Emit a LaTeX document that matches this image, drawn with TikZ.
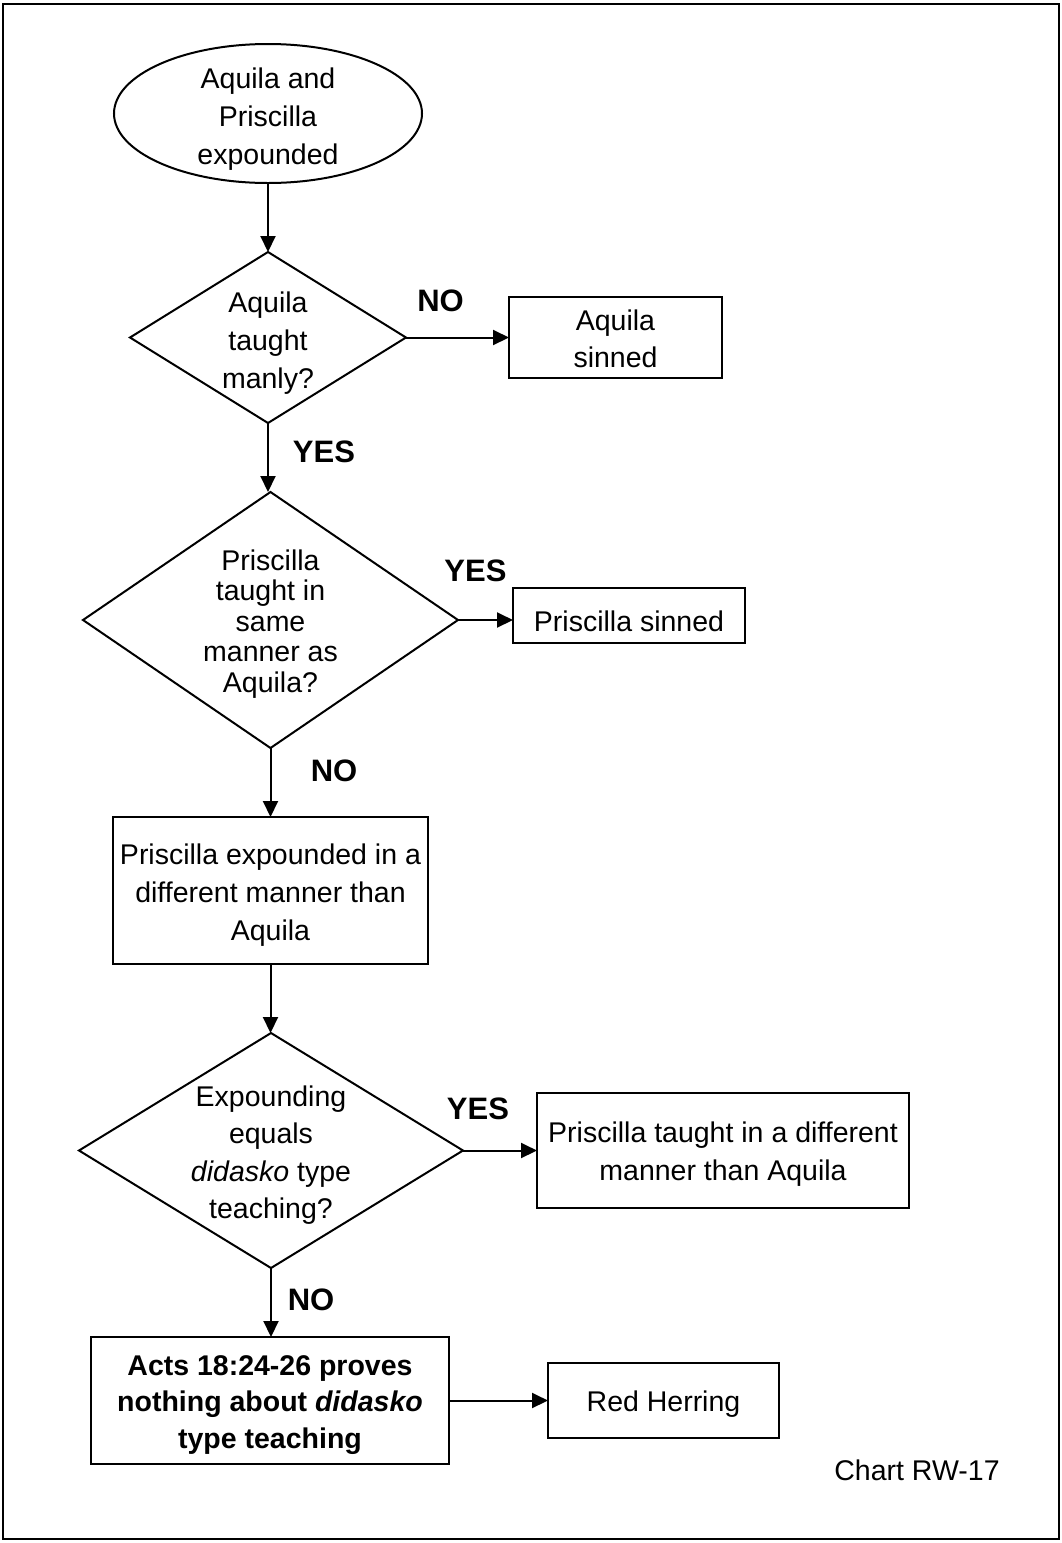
\documentclass[tikz,border=0pt]{standalone}
\usepackage{fontspec}
\setmainfont{Liberation Sans}
\usetikzlibrary{shapes.geometric,arrows.meta}
\begin{document}
\begin{tikzpicture}[x=1pt,y=-1pt,
  every node/.style={font=\fontsize{28.5}{38}\selectfont, align=center, inner sep=0pt, outer sep=0pt},
  lw/.style={line width=2pt},
  box/.style={draw, lw, rectangle},
  dia/.style={draw, lw, diamond},
  oval/.style={draw, lw, ellipse},
  lab/.style={font=\fontsize{31}{36}\selectfont\bfseries},
  arr/.style={lw, -{Triangle[length=16pt,width=15pt]}}
]
\useasboundingbox (0,0) rectangle (1061,1543);
\draw[line width=2.4pt] (3,4) rectangle (1059,1539);

% start ellipse
\node[oval, minimum width=308, minimum height=139] (start) at (268,113.5) {};
\node (startt) at (268,119) {Aquila and\\Priscilla\\expounded};

% decision 1
\node[dia, minimum width=276, minimum height=171] (d1) at (268,337.5) {};
\node (d1t) at (268,343) {Aquila\\taught\\manly?};

% box Aquila sinned
\node[box, minimum width=213, minimum height=81] (b1) at (615.5,337.5) {};
\node[font=\fontsize{28.5}{37}\selectfont] (b1t) at (615.5,339) {Aquila\\sinned};

% decision 2
\node[dia, minimum width=375, minimum height=256] (d2) at (270.5,620) {};
\node[font=\fontsize{28.5}{30.5}\selectfont] (d2t) at (270.5,624) {Priscilla\\taught in\\same\\manner as\\Aquila?};

% box Priscilla sinned
\node[box, minimum width=232, minimum height=55] (b2) at (629,615.5) {};
\node (b2t) at (629,621) {Priscilla sinned};

% box expounded different
\node[box, minimum width=315, minimum height=147] (b3) at (270.5,890.5) {};
\node (b3t) at (270.5,895) {Priscilla expounded in a\\different manner than\\Aquila};

% decision 3
\node[dia, minimum width=384, minimum height=235] (d3) at (271,1150.5) {};
\node[font=\fontsize{28.5}{37.5}\selectfont] (d3t) at (271,1155) {Expounding\\equals\\\textit{didasko} type\\teaching?};

% box taught different
\node[box, minimum width=372, minimum height=115] (b4) at (723,1150.5) {};
\node (b4t) at (723,1154) {Priscilla taught in a different\\manner than Aquila};

% bold box
\node[box, minimum width=358, minimum height=127] (b5) at (270,1400.5) {};
\node[font=\fontsize{28.5}{36.5}\selectfont\bfseries] (b5t) at (270,1405) {Acts 18:24-26 proves\\nothing about \textit{didasko}\\type teaching};

% red herring
\node[box, minimum width=231, minimum height=75] (b6) at (663.5,1400.5) {};
\node (b6t) at (663.5,1404) {Red Herring};

% chart label
\node (chart) at (917,1470.5) {Chart RW-17};

% branch labels
\node[lab] (no1) at (440.5,301) {NO};
\node[lab] (yes1) at (324,452) {YES};
\node[lab] (yes2) at (475.5,571) {YES};
\node[lab] (no2) at (334,771) {NO};
\node[lab] (yes3) at (478,1109) {YES};
\node[lab] (no3) at (311,1300) {NO};

% connectors
\draw[arr] (start.south) -- (d1.north);
\draw[arr] (d1.east) -- (b1.west);
\draw[arr] (d1.south) -- (d1.south |- d2.north);
\draw[arr] (d2.east) -- (d2.east -| b2.west);
\draw[arr] (d2.south) -- (d2.south |- b3.north);
\draw[arr] (b3.south) -- (b3.south |- d3.north);
\draw[arr] (d3.east) -- (b4.west);
\draw[arr] (d3.south) -- (d3.south |- b5.north);
\draw[arr] (b5.east) -- (b6.west);
\end{tikzpicture}
\end{document}
